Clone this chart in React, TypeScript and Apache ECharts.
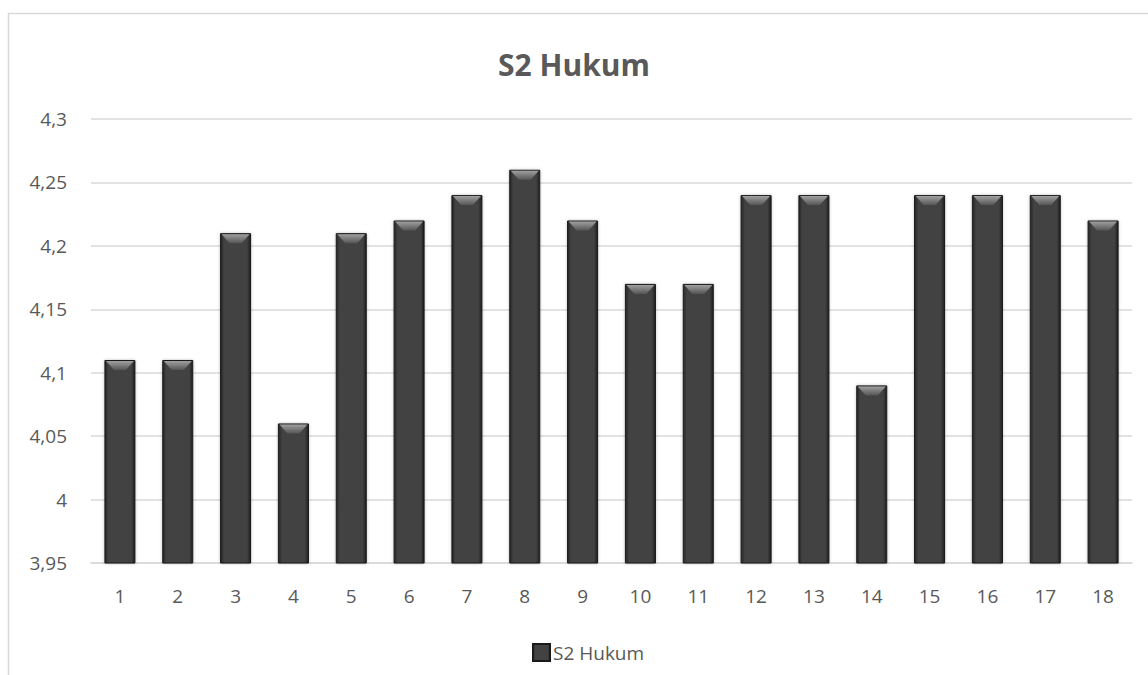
import React, { useEffect, useRef } from "react";
import * as echarts from "echarts";

const categories = ["1", "2", "3", "4", "5", "6", "7", "8", "9", "10", "11", "12", "13", "14", "15", "16", "17", "18"];
const values = [4.11, 4.11, 4.21, 4.06, 4.21, 4.22, 4.24, 4.26, 4.22, 4.17, 4.17, 4.24, 4.24, 4.09, 4.24, 4.24, 4.24, 4.22];
const seriesName = "S2 Hukum";
const yMin = 3.95;
const yMax = 4.3;
const yInterval = 0.05;

const FONT = "'Open Sans', 'Noto Sans', sans-serif";

export default function App() {
  const ref = useRef<HTMLDivElement>(null);
  useEffect(() => {
    if (!ref.current) return;
    const chart = echarts.init(ref.current, undefined, { renderer: "svg" });
    const barBody = new echarts.graphic.LinearGradient(0, 0, 1, 0, [
      { offset: 0, color: "#262626" },
      { offset: 0.12, color: "#424242" },
      { offset: 0.88, color: "#424242" },
      { offset: 1, color: "#1e1e1e" },
    ]);
    chart.setOption({
      animation: false,
      backgroundColor: "#ffffff",
      title: {
        text: seriesName,
        left: "center",
        top: 44,
        textStyle: { fontFamily: FONT, fontSize: 30, fontWeight: "bold", color: "#595959" },
      },
      legend: {
        data: [seriesName],
        left: 527,
        top: 638,
        itemWidth: 17,
        itemHeight: 17,
        itemGap: 4,
        icon: "rect",
        textStyle: { fontFamily: FONT, fontSize: 19, color: "#595959", padding: [0, 0, 0, -2] },
      },
      grid: { left: 91, right: 16, top: 119, bottom: 112, containLabel: false },
      xAxis: {
        type: "category",
        data: categories,
        axisLine: { show: true, lineStyle: { color: "#d9d9d9", width: 1.5 } },
        axisTick: { show: false },
        axisLabel: { fontFamily: FONT, fontSize: 19, color: "#595959", margin: 23 },
      },
      yAxis: {
        type: "value",
        min: yMin,
        max: yMax,
        interval: yInterval,
        axisLine: { show: false },
        axisTick: { show: false },
        splitLine: { lineStyle: { color: "#d9d9d9", width: 1.5 } },
        axisLabel: {
          fontFamily: FONT,
          fontSize: 19,
          color: "#595959",
          margin: 24,
          formatter: (v: number) => String(+v.toFixed(2)).replace(".", ","),
        },
      },
      graphic: [
        {
          type: "rect",
          shape: { x: 8.5, y: 13.5, width: 1300, height: 800 },
          style: { fill: "none", stroke: "#d9d9d9", lineWidth: 1.5 },
          silent: true,
        },
      ],
      series: [
        {
          name: seriesName,
          type: "bar",
          data: values,
          barWidth: 31,
          itemStyle: { color: barBody, borderColor: "#1a1a1a", borderWidth: 1, shadowColor: "rgba(0,0,0,0.25)", shadowBlur: 3 },
          z: 2,
        },
        {
          name: "bevel",
          type: "custom",
          data: values.map((v, i) => [i, v]),
          z: 3,
          silent: true,
          renderItem: (params: any, api: any) => {
            const top = api.coord([api.value(0), api.value(1)]);
            const w = 31;
            const x0 = top[0] - w / 2 + 1.5;
            const x1 = top[0] + w / 2 - 1.5;
            const y0 = top[1] + 1;
            const h = 9;
            return {
              type: "polygon",
              shape: {
                points: [
                  [x0, y0],
                  [x1, y0],
                  [x1 - 8, y0 + h],
                  [x0 + 8, y0 + h],
                ],
              },
              style: {
                fill: new echarts.graphic.LinearGradient(0, 0, 0, 1, [
                  { offset: 0, color: "#a0a0a0" },
                  { offset: 1, color: "#555555" },
                ]),
              },
            };
          },
        },
      ],
    });
    return () => chart.dispose();
  }, []);
  return <div ref={ref} style={{ position: "absolute", left: 0, top: 0, width: 1148, height: 675 }} />;
}
